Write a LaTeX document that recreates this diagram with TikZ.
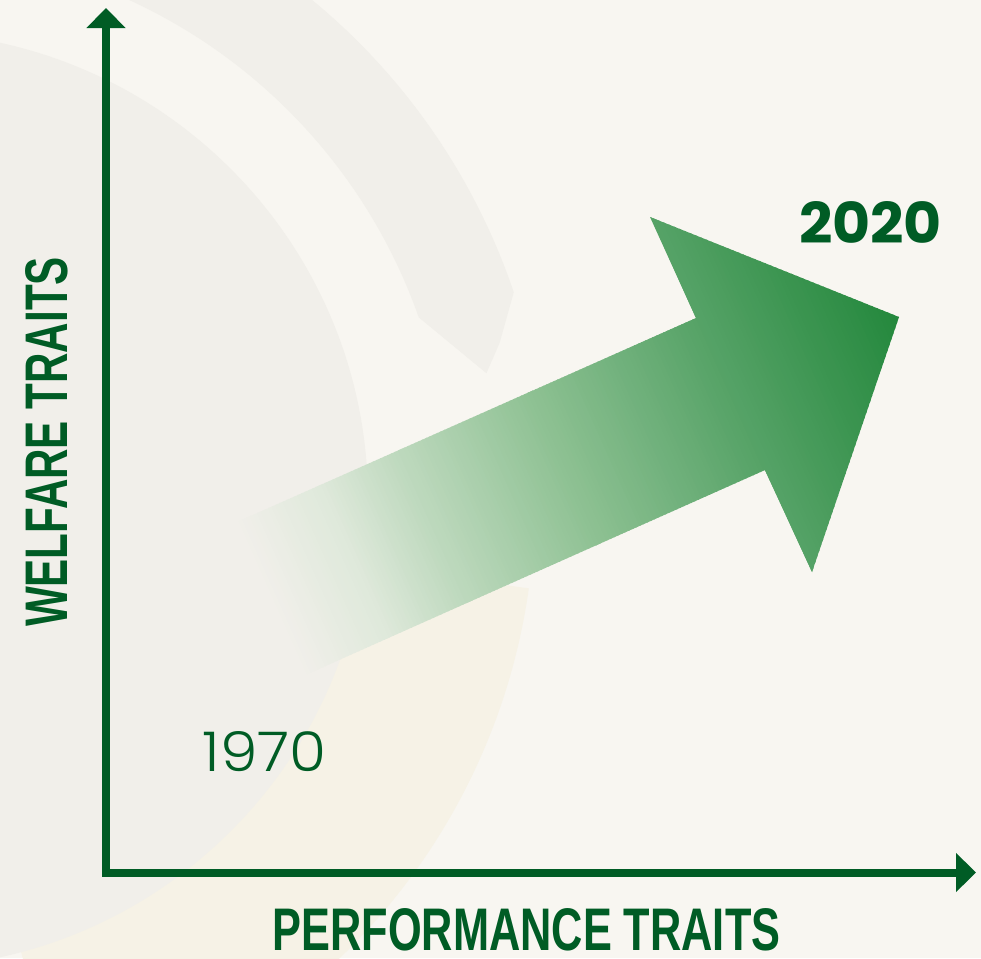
\documentclass[tikz,border=0pt]{standalone}
\usepackage{fontspec}
\usepackage{graphicx}
\usetikzlibrary{arrows.meta}
\newfontfamily\axisfont{Liberation Sans}
\newfontfamily\popfont{Poppins}
\IfFontExistsTF{Poppins Light}{\newfontfamily\poplight{Poppins Light}}{\newfontfamily\poplight{Poppins}}
\definecolor{bgc}{RGB}{248,246,241}
\definecolor{wmgrey}{RGB}{241,239,234}
\definecolor{wmyellow}{RGB}{246,242,230}
\definecolor{dkgreen}{RGB}{0,92,37}
\definecolor{gA}{RGB}{241,239,234}
\definecolor{gB}{RGB}{223,233,219}
\definecolor{gC}{RGB}{188,216,188}
\definecolor{gD}{RGB}{142,193,147}
\definecolor{gE}{RGB}{85,162,102}
\definecolor{gF}{RGB}{30,133,56}
\tikzset{
  axisline/.style={draw=dkgreen, line width=0.16cm, line join=miter,
    {Triangle[length=0.4cm,width=0.76cm]}-{Triangle[length=0.4cm,width=0.76cm]}},
  lbl/.style={inner sep=0pt, outer sep=0pt, text=dkgreen},
}
\begin{document}
\begin{tikzpicture}[x=0.02cm,y=0.02cm]
\useasboundingbox (0,0) rectangle (981,-958);
\fill[bgc] (0,0) rectangle (981,-958);
% faint watermark behind the chart
\begin{scope}
  \clip (0,0) rectangle (981,-958);
  \fill[wmgrey, shift={(-100,-500)}] (18.7:648) arc[start angle=18.7, end angle=120, radius=648]
     -- (120:550) arc[start angle=120, end angle=19.4, radius=550] -- (12.2:600)
     -- (14.7:620) -- cycle;
  \fill[wmyellow, shift={(-100,-500)}] (-8:635) arc[start angle=-8, end angle=-75, radius=635]
     -- (-75:460) arc[start angle=-75, end angle=-8, radius=460] -- cycle;
  \fill[wmgrey] (-100,-500) circle (468);
\end{scope}
% big gradient arrow
\coordinate (t1) at (226,-527);
\coordinate (n1) at (696,-318);
\coordinate (h1) at (650,-217);
\coordinate (tip) at (899,-317);
\coordinate (h2) at (812,-572);
\coordinate (n2) at (765,-470);
\coordinate (t2) at (294,-680);
\begin{scope}
  \clip (t1) -- (n1) -- (h1) -- (tip) -- (h2) -- (n2) -- (t2) -- cycle;
  \begin{scope}[shift={(tip)}, rotate=24]
    \foreach \sa/\sb/\ca/\cb in {-720/-690/gA/gA, -690/-600/gA/gB, -600/-510/gB/gC, -510/-370/gC/gD, -370/-185/gD/gE, -185/20/gE/gF}{
      \pgfmathtruncatemacro\n{(\sb-\sa)/4}
      \foreach \i in {0,...,\n}{
        \pgfmathsetmacro\s{\sa+4*\i}
        \pgfmathtruncatemacro\p{100*\i/\n}
        \fill[fill=\cb!\p!\ca] (\s,-300) rectangle ({\s+5.5},300);
      }
    }
  \end{scope}
\end{scope}
% axes
\coordinate (ytip) at (106,-8);
\coordinate (origin) at (106,-872.5);
\coordinate (xtip) at (976,-872.5);
\draw[axisline] (ytip) -- (origin) -- (xtip);
% labels
\node[lbl, rotate=90] (wlab) at (47,-442) {\resizebox{7.4cm}{0.84cm}{\axisfont\bfseries WELFARE TRAITS}};
\node[lbl] (plab) at (526.5,-930) {\resizebox{10.16cm}{0.84cm}{\axisfont\bfseries PERFORMANCE TRAITS}};
\node[lbl] (y2020) at (870.5,-222.5) {\resizebox{2.86cm}{0.84cm}{\popfont\bfseries 2020}};
\node[lbl] (y1970) at (264.7,-752) {\resizebox{2.48cm}{0.8cm}{\poplight 1970}};
\end{tikzpicture}
\end{document}
